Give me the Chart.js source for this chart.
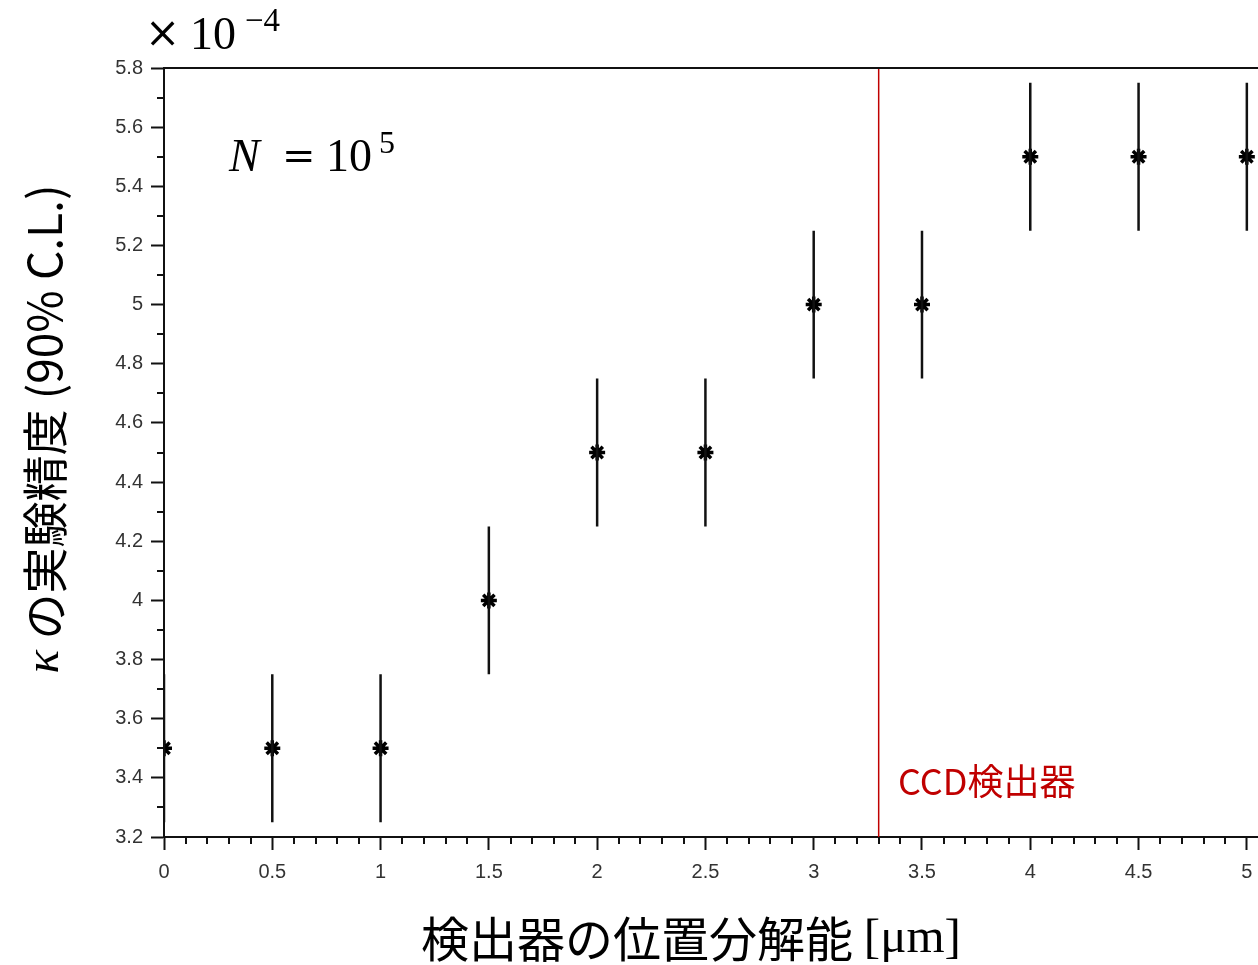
<!DOCTYPE html>
<html lang="ja">
<head>
<meta charset="UTF-8">
<title>κ の実験精度</title>
<script src="https://cdn.jsdelivr.net/npm/chart.js"></script>
<style>
  html, body { margin: 0; padding: 0; background: #fff; overflow: hidden; }
</style>
</head>
<body>
<canvas id="resChart" width="1280" height="965"></canvas>
<script>
// data (kappa in units of 1e-4)
const resolution = [0, 0.5, 1, 1.5, 2, 2.5, 3, 3.5, 4, 4.5, 5];
const kappaPrecision = [3.5, 3.5, 3.5, 4.0, 4.5, 4.5, 5.0, 5.0, 5.5, 5.5, 5.5];
const kappaErr = [0.25, 0.25, 0.25, 0.25, 0.25, 0.25, 0.25, 0.25, 0.25, 0.25, 0.25];
const ccdResolution = 3.3;
const yRange = [3.2, 5.8];
const xRange = [0, 5.1];

const fmt = v => String(+v.toFixed(1));
const ink = '#111';
const red = '#c00000';
const cjk = '"Noto Sans CJK JP", "Noto Sans", sans-serif';
const serif = '"Liberation Serif", "DejaVu Serif", serif';

// error bar segments, split by nulls
const errBars = [];
resolution.forEach((x, i) => {
    errBars.push({x: x, y: kappaPrecision[i] - kappaErr[i]});
    errBars.push({x: x, y: kappaPrecision[i] + kappaErr[i]});
    errBars.push({x: x, y: null});
});

const points = resolution.map((x, i) => ({x: x, y: kappaPrecision[i]}));

// minor ticks, top frame line and all the text annotations
const decorations = {
    id: 'decorations',
    afterDraw(chart) {
        const {ctx, chartArea: area, scales: {x, y}} = chart;
        ctx.save();
        ctx.strokeStyle = ink;
        ctx.lineWidth = 2;
        ctx.beginPath();
        for (let i = 0; i <= 51; i++) {
            if (i % 5 === 0) continue;
            const px = Math.round(x.getPixelForValue(i / 10));
            ctx.moveTo(px, area.bottom);
            ctx.lineTo(px, area.bottom + 7);
        }
        for (let i = 32; i <= 58; i++) {
            if (i % 2 === 0) continue;
            const py = Math.round(y.getPixelForValue(i / 10));
            ctx.moveTo(area.left - 7, py);
            ctx.lineTo(area.left, py);
        }
        ctx.moveTo(area.left - 1, area.top);
        ctx.lineTo(area.right, area.top);
        ctx.stroke();

        ctx.fillStyle = '#000';
        ctx.textBaseline = 'alphabetic';
        ctx.textAlign = 'left';

        // x 10^-4
        ctx.font = '42px "DejaVu Serif", serif';
        ctx.fillText('×', 145, 47);
        ctx.font = '46px ' + serif;
        ctx.fillText('10', 190, 49);
        ctx.font = '33px ' + serif;
        ctx.fillText('−4', 245, 31);

        // N = 10^5
        ctx.font = 'italic 46px ' + serif;
        ctx.fillText('N', 229, 171);
        ctx.font = '40px "DejaVu Serif", serif';
        ctx.fillText('=', 282, 169);
        ctx.font = '46px ' + serif;
        ctx.fillText('10', 326, 171);
        ctx.font = '32px ' + serif;
        ctx.fillText('5', 379, 153);

        // CCD label
        ctx.fillStyle = red;
        ctx.font = '36px ' + cjk;
        ctx.fillText('CCD検出器', 898, 795);

        // x title
        ctx.fillStyle = '#000';
        ctx.textBaseline = 'middle';
        const xa = '検出器の位置分解能 ', xb = '[μm]';
        ctx.font = '48px ' + cjk;
        const wa = ctx.measureText(xa).width;
        ctx.font = '49px ' + serif;
        const wb = ctx.measureText(xb).width;
        let sx = 691 - (wa + wb) / 2;
        ctx.font = '48px ' + cjk;
        ctx.fillText(xa, sx, 939);
        ctx.font = '49px ' + serif;
        ctx.fillText(xb, sx + wa, 939);

        // y title
        ctx.translate(45, 429);
        ctx.rotate(-Math.PI / 2);
        const ya = 'κ', yb = ' の実験精度 (90% C.L.)';
        ctx.font = 'italic 49px ' + serif;
        const wya = ctx.measureText(ya).width;
        ctx.font = '46px ' + cjk;
        const wyb = ctx.measureText(yb).width;
        sx = -(wya + wyb) / 2;
        ctx.font = 'italic 49px ' + serif;
        ctx.fillText(ya, sx, 0);
        ctx.font = '46px ' + cjk;
        ctx.fillText(yb, sx + wya, 0);
        ctx.restore();
    }
};

const tickFont = {family: '"Liberation Sans", Arial, sans-serif', size: 20};

new Chart(document.getElementById('resChart'), {
    type: 'scatter',
    data: {
        datasets: [{
            label: 'error',
            data: errBars,
            showLine: true,
            spanGaps: false,
            borderColor: ink,
            borderWidth: 2.5,
            pointRadius: 0
        }, {
            label: 'kappa',
            data: points,
            pointStyle: 'star',
            pointRadius: 8,
            pointBorderWidth: 3.5,
            pointBorderColor: '#000',
            pointBackgroundColor: '#000'
        }, {
            label: 'CCD',
            data: [{x: ccdResolution, y: yRange[0]}, {x: ccdResolution, y: yRange[1]}],
            showLine: true,
            borderColor: red,
            borderWidth: 1.5,
            pointRadius: 0
        }]
    },
    options: {
        responsive: false,
        animation: false,
        layout: {padding: {top: 68, right: 7, left: 0, bottom: 0}},
        plugins: {legend: {display: false}, tooltip: {enabled: false}},
        scales: {
            x: {
                type: 'linear',
                min: xRange[0],
                max: xRange[1],
                afterFit: s => { s.height = 128; },
                border: {color: ink, width: 2},
                grid: {drawOnChartArea: false, tickLength: 13, tickWidth: 2, tickColor: ink},
                ticks: {stepSize: 0.5, includeBounds: false, font: tickFont, color: '#333', padding: 10, maxRotation: 0, callback: fmt}
            },
            y: {
                min: yRange[0],
                max: yRange[1],
                afterFit: s => { s.width = 164; },
                border: {color: ink, width: 2},
                grid: {drawOnChartArea: false, tickLength: 13, tickWidth: 2, tickColor: ink},
                ticks: {stepSize: 0.2, font: tickFont, color: '#333', padding: 8, callback: fmt}
            }
        }
    },
    plugins: [decorations]
});
</script>
</body>
</html>
